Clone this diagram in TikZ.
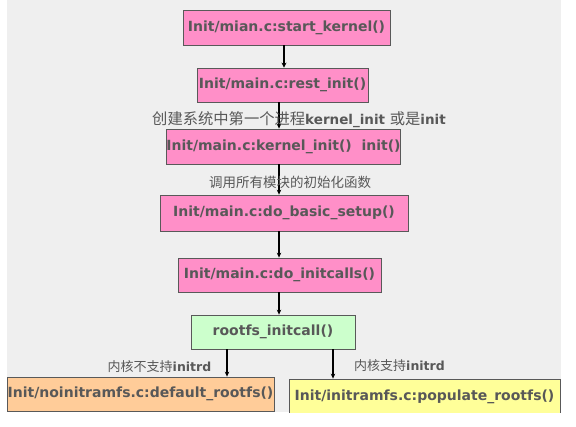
\documentclass[tikz,border=0pt]{standalone}
\usepackage{fontspec}
\setmainfont{DejaVu Sans}
\newfontfamily\cjk{Noto Sans CJK SC}
\usetikzlibrary{arrows.meta}
\definecolor{boxpink}{HTML}{FF8FC8}
\definecolor{boxgreen}{HTML}{CCFFCC}
\definecolor{boxorange}{HTML}{FFCC99}
\definecolor{boxyellow}{HTML}{FFFF99}
\definecolor{txtgray}{HTML}{585858}
\definecolor{bggray}{HTML}{EFEFEF}

\begin{document}
\begin{tikzpicture}[
    x=1pt, y=-1pt,
    func/.style={draw=black!65, line width=0.8pt, inner sep=0pt,
        text=txtgray, font=\fontsize{14}{16}\selectfont\bfseries},
    note/.style={inner sep=0pt, text=txtgray},
    arr/.style={-{Stealth[length=5pt,width=4.5pt]}, line width=1.2pt},
    thickarr/.style={-{Stealth[length=5pt,width=5pt]}, line width=2.8pt}
]
    \useasboundingbox (0,0) rectangle (576,426);
    \fill[white] (0,0) rectangle (576,426);
    \begin{scope}
    \clip (7,0) rectangle (561,412);
    \fill[bggray] (7,0) rectangle (561,412);

    % Call chain, top to bottom.
    \node[func, fill=boxpink, minimum width=207pt, minimum height=35pt] (start) at (286.5,27.5) {Init/mian.c:start\_kernel()};
    \node[func, fill=boxpink, minimum width=171pt, minimum height=34pt] (rest) at (282.5,85) {Init/main.c:rest\_init()};
    \node[func, fill=boxpink, minimum width=229pt, minimum height=35pt] (kinit) at (283.5,146.5) {Init/main.c:kernel\_init()\ \ init()};
    \node[func, fill=boxpink, minimum width=248pt, minimum height=36pt] (basic) at (284,213) {Init/main.c:do\_basic\_setup()};
    \node[func, fill=boxpink, minimum width=203pt, minimum height=34pt] (calls) at (279.5,275) {Init/main.c:do\_initcalls()};
    \node[func, fill=boxgreen, minimum width=164pt, minimum height=34pt] (rootfs) at (273,332) {rootfs\_initcall()};
    \node[func, fill=boxorange, minimum width=267pt, minimum height=34pt] (noinit) at (140.5,394) {Init/noinitramfs.c:default\_rootfs()};
    \node[func, fill=boxyellow, minimum width=271pt, minimum height=36pt] (populate) at (424.5,397) {Init/initramfs.c:populate\_rootfs()};

    \coordinate (spine) at (279,0);
    \coordinate (top) at (284,0);

    \draw[thickarr] (start.south -| top) -- (rest.north -| top);
    \draw[arr] (rest.south -| spine) -- (kinit.north -| spine);
    \draw[arr] (kinit.south -| spine) -- (basic.north -| spine);
    \draw[arr] (basic.south -| spine) -- (calls.north -| spine);
    \draw[arr] (calls.south -| spine) -- (rootfs.north -| spine);
    \draw[arr] ([xshift=-46pt]rootfs.south) -- ([xshift=-46pt]rootfs.south |- noinit.north);
    \draw[arr] ([xshift=60pt]rootfs.south) -- ([xshift=60pt]rootfs.south |- populate.north);

    % Labels on the connectors.
    \node[note] (lbla) at (299,120) {{\cjk\fontsize{15.3}{17}\selectfont 创建系统中第一个进程}{\fontsize{13.5}{15}\selectfont\bfseries kernel\_init }{\cjk\fontsize{15.3}{17}\selectfont 或是}{\fontsize{13.5}{15}\selectfont\bfseries init}};
    \node[note] (lblb) at (290,182) {\cjk\fontsize{13.5}{15}\selectfont 调用所有模块的初始化函数};
    \node[note] (lblc) at (159.5,367) {{\cjk\fontsize{13}{15}\selectfont 内核不支持}{\fontsize{12.5}{14}\selectfont\bfseries initrd}};
    \node[note] (lbld) at (399.5,366) {{\cjk\fontsize{13}{15}\selectfont 内核支持}{\fontsize{12.5}{14}\selectfont\bfseries initrd}};
    \end{scope}
\end{tikzpicture}
\end{document}
